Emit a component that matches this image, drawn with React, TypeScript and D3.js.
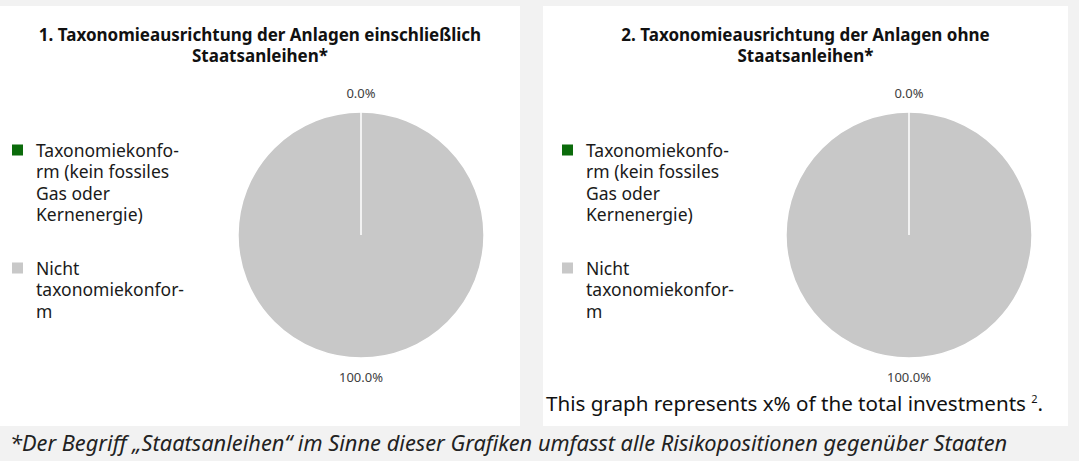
import React, { useEffect, useRef } from "react";
import * as d3 from "d3";

// chart data
const categories = ["Taxonomiekonform (kein fossiles Gas oder Kernenergie)", "Nicht taxonomiekonform"];
const legendLines = [
  ["Taxonomiekonfo-", "rm (kein fossiles", "Gas oder", "Kernenergie)"],
  ["Nicht", "taxonomiekonfor-", "m"],
];
const colors = ["#0b6b0b", "#c8c8c8"];
const valuesWithSovereigns = [0, 100];
const valuesWithoutSovereigns = [0, 100];
const titles = [
  ["1. Taxonomieausrichtung der Anlagen einschließlich", "Staatsanleihen*"],
  ["2. Taxonomieausrichtung der Anlagen ohne", "Staatsanleihen*"],
];
const noteText = "This graph represents x% of the total investments ";
const footnote = "*Der Begriff „Staatsanleihen“ im Sinne dieser Grafiken umfasst alle Risikopositionen gegenüber Staaten";

const W = 1079;
const H = 461;
const FONT = "'Noto Sans', 'Open Sans', sans-serif";

const App = () => {
  const svgRef = useRef(null);

  useEffect(() => {
    const svg = d3.select(svgRef.current);
    svg.selectAll("*").remove();

    svg.append("rect").attr("width", W).attr("height", H).attr("fill", "#f2f2f2");

    const panels = [
      { x: 0, w: 520, cx: 361, lx: 12, values: valuesWithSovereigns, title: titles[0] },
      { x: 543, w: 525, cx: 909, lx: 19, values: valuesWithoutSovereigns, title: titles[1] },
    ];

    const r = 123;
    const cy = 235;
    const pie = d3.pie<number>().sort(null).value((d) => d);
    const arc = d3.arc<d3.PieArcDatum<number>>().innerRadius(0).outerRadius(r);
    const labelArc = d3.arc<d3.PieArcDatum<number>>().innerRadius(r + 19).outerRadius(r + 19);

    panels.forEach((p) => {
      const g = svg.append("g");
      g.append("rect")
        .attr("x", p.x)
        .attr("y", 6)
        .attr("width", p.w)
        .attr("height", 420)
        .attr("fill", "#ffffff");

      // title
      g.append("text")
        .attr("text-anchor", "middle")
        .attr("font-family", FONT)
        .attr("font-weight", "bold")
        .attr("font-size", 17)
        .attr("fill", "#111")
        .selectAll("tspan")
        .data(p.title)
        .enter()
        .append("tspan")
        .attr("x", p.x + p.w / 2)
        .attr("y", (d, i) => 41 + i * 21)
        .text((d) => d);

      // legend
      let ly = 150;
      legendLines.forEach((lines, i) => {
        g.append("rect")
          .attr("x", p.x + p.lx)
          .attr("y", ly - 5.5)
          .attr("width", 11)
          .attr("height", 11)
          .attr("fill", colors[i]);
        const t = g
          .append("text")
          .attr("font-family", FONT)
          .attr("font-size", 17.5)
          .attr("fill", "#1a1a1a");
        lines.forEach((line, j) => {
          t.append("tspan")
            .attr("x", p.x + p.lx + 24)
            .attr("y", ly + 7 + j * 21.3)
            .text(line);
        });
        ly += 118;
      });

      // pie
      const arcs = pie(p.values);
      const pg = g.append("g").attr("transform", `translate(${p.cx},${cy})`);
      pg.selectAll("path.fill")
        .data(arcs)
        .enter()
        .append("path")
        .attr("class", "fill")
        .attr("d", arc)
        .attr("fill", (d, i) => colors[i]);
      // white slice borders on top, so the empty slice shows as a line
      pg.selectAll("path.edge")
        .data(arcs)
        .enter()
        .append("path")
        .attr("class", "edge")
        .attr("d", arc)
        .attr("fill", "none")
        .attr("stroke", "#ffffff")
        .attr("stroke-width", 1.5);

      pg.selectAll("text")
        .data(arcs)
        .enter()
        .append("text")
        .attr("transform", (d) => `translate(${labelArc.centroid(d)})`)
        .attr("text-anchor", "middle")
        .attr("dy", "0.35em")
        .attr("font-family", FONT)
        .attr("font-size", 13)
        .attr("fill", "#404040")
        .text((d) => `${d.data.toFixed(1)}%`);
    });

    // note under pie 2
    const note = svg
      .append("text")
      .attr("x", 546)
      .attr("y", 411)
      .attr("font-family", FONT)
      .attr("font-size", 20.6)
      .attr("fill", "#111");
    note.append("tspan").text(noteText);
    note.append("tspan").attr("font-size", 11).attr("dy", -8).text("2");
    note.append("tspan").attr("dy", 8).text(".");

    // footnote
    svg
      .append("text")
      .attr("x", 10)
      .attr("y", 451)
      .attr("font-family", FONT)
      .attr("font-style", "italic")
      .attr("font-size", 21.8)
      .attr("fill", "#222")
      .text(footnote);
  }, []);

  return (
    <div style={{ position: "absolute", left: 0, top: 0 }}>
      <svg ref={svgRef} width={W} height={H} aria-label={categories.join(", ")}></svg>
    </div>
  );
};

export default App;
